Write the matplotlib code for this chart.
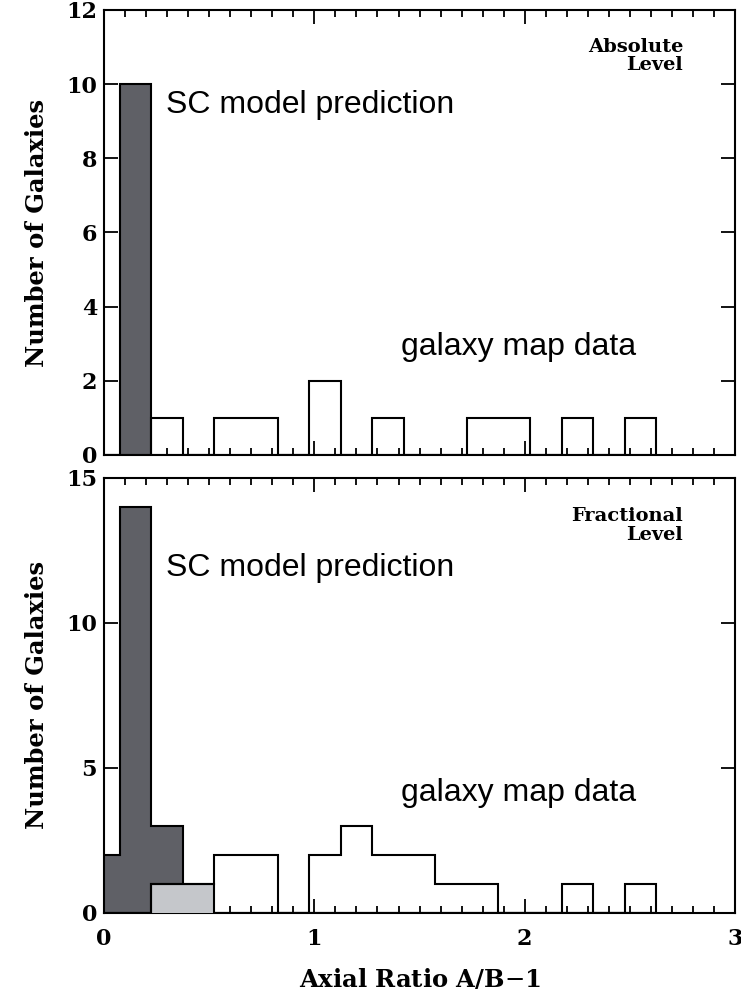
import numpy as np
import matplotlib
matplotlib.use('Agg')
import matplotlib.pyplot as plt
from matplotlib.ticker import MultipleLocator

# histogram bins of A/B-1, width 0.15, first bin centred on 0
bin_edges = np.round(np.arange(-0.075, 2.7, 0.15), 3)

# absolute level
abs_data = [0, 0, 1, 0, 1, 1, 0, 2, 0, 1, 0, 0, 1, 1, 0, 1, 0, 1]
abs_model = [0, 10, 0, 0, 0, 0, 0, 0, 0, 0, 0, 0, 0, 0, 0, 0, 0, 0]

# fractional level
frac_data = [0, 0, 1, 1, 2, 2, 0, 2, 3, 2, 2, 1, 1, 0, 0, 1, 0, 1]
frac_model = [2, 14, 3, 0, 0, 0, 0, 0, 0, 0, 0, 0, 0, 0, 0, 0, 0, 0]
overlap_limit = 0.525

dark = '#5f6066'
light = '#c5c7cb'
lw = 1.5
tick_font = {'family': 'DejaVu Serif', 'weight': 'bold', 'size': 16}
label_font = {'family': 'DejaVu Serif', 'weight': 'bold', 'size': 17.5}
note_font = {'family': 'Liberation Sans', 'size': 23}
level_font = {'family': 'DejaVu Serif', 'weight': 'bold', 'size': 14}

fig = plt.figure(figsize=(7.41, 9.96), dpi=100)
ax1 = fig.add_axes([0.1404, 0.5432, 0.8516, 0.4468])
ax2 = fig.add_axes([0.1404, 0.0836, 0.8516, 0.4365])


def style(ax, ymax, ystep):
    ax.set_xlim(0, 3)
    ax.set_ylim(0, ymax)
    ax.xaxis.set_major_locator(MultipleLocator(1))
    ax.xaxis.set_minor_locator(MultipleLocator(0.1))
    ax.yaxis.set_major_locator(MultipleLocator(ystep))
    ax.tick_params(which='both', direction='in', top=True, right=True, width=1.3)
    ax.tick_params(which='major', length=10)
    ax.tick_params(which='minor', length=5)
    ax.tick_params(axis='y', pad=5)
    ax.tick_params(axis='x', pad=11)
    for s in ax.spines.values():
        s.set_linewidth(1.5)
    for t in ax.get_xticklabels() + ax.get_yticklabels():
        t.set_fontproperties(tick_font)
    ax.set_ylabel('Number of Galaxies', fontdict=label_font, labelpad=12)


# top panel
ax1.stairs(abs_model, bin_edges, baseline=0, fill=True, facecolor=dark,
           edgecolor='k', lw=lw, zorder=2)
ax1.stairs(abs_data, bin_edges, baseline=0, fill=False, color='k', lw=lw, zorder=3)
style(ax1, 12, 2)
ax1.set_xticklabels([])
ax1.text(0.295, 9.23, 'SC model prediction', fontdict=note_font, va='baseline')
ax1.text(1.412, 2.70, 'galaxy map data', fontdict=note_font, va='baseline')
ax1.text(2.753, 11.25, 'Absolute\nLevel', ha='right', va='top',
         fontdict=level_font, linespacing=1.05)

# bottom panel
frac_overlap = np.where(bin_edges[1:] <= overlap_limit, frac_data, 0)
ax2.stairs(frac_model, bin_edges, baseline=0, fill=True, facecolor=dark,
           edgecolor='k', lw=lw, zorder=2)
ax2.stairs(frac_overlap, bin_edges, baseline=0, fill=True, facecolor=light,
           edgecolor='k', lw=lw, zorder=3)
ax2.stairs(frac_data, bin_edges, baseline=0, fill=False, color='k', lw=lw, zorder=4)
style(ax2, 15, 5)
ax2.text(0.295, 11.62, 'SC model prediction', fontdict=note_font, va='baseline')
ax2.text(1.412, 3.86, 'galaxy map data', fontdict=note_font, va='baseline')
ax2.text(2.753, 14.0, 'Fractional\nLevel', ha='right', va='top',
         fontdict=level_font, linespacing=1.05)
ax2.set_xlabel('Axial Ratio A/B$-$1', fontdict=label_font, labelpad=12)

fig.savefig('out.png', dpi=100)
